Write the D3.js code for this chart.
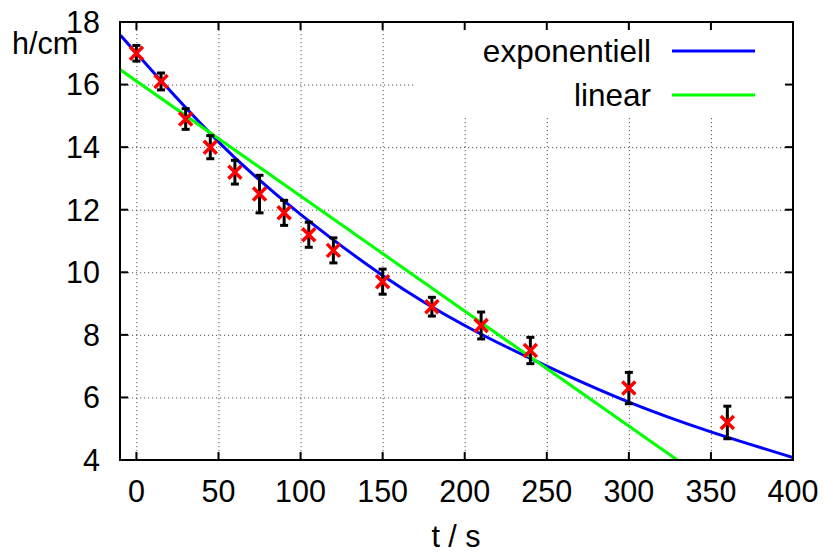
<!DOCTYPE html>
<meta charset="utf-8">
<style>
  body { margin: 0; background: #fff; }
  svg { display: block; font-family: "Liberation Sans", Arial, sans-serif; }
</style>
<svg id="chart" width="825" height="556"></svg>
<script src="https://cdn.jsdelivr.net/npm/d3@7"></script>
<script>

// measured points (t in s, h in cm) with error bars
var zeit = [0, 15, 30, 45, 60, 75, 90, 105, 120, 150, 180, 210, 240, 300, 360];
var hoehe = [17.0, 16.1, 14.9, 14.0, 13.2, 12.5, 11.9, 11.2, 10.7, 9.7, 8.9, 8.3, 7.5, 6.3, 5.2];
var fehler = [0.25, 0.27, 0.33, 0.37, 0.38, 0.6, 0.4, 0.4, 0.4, 0.4, 0.3, 0.43, 0.42, 0.5, 0.52];

// fitted curves
var expT = [-10, 0, 50, 100, 150, 200, 250, 300, 350, 400];
var expH = [17.6, 17.0, 14.17, 11.85, 9.9, 8.3, 7.0, 5.85, 4.9, 4.08];
var linT = [-10, 329.5];
var linH = [16.48, 4.0];

var xTicks = [0, 50, 100, 150, 200, 250, 300, 350, 400];
var yTicks = [4, 6, 8, 10, 12, 14, 16, 18];

var legende = [
  {name: "exponentiell", color: "#0000ff"},
  {name: "linear", color: "#00ff00"}
];

var svg = d3.select("svg"),
    pL = 120, pR = 793, pT = 22, pB = 460;

svg.append("rect").attr("width", 825).attr("height", 556).attr("fill", "#fff");

var x = d3.scaleLinear().domain([-10, 400]).range([pL, pR]);
var y = d3.scaleLinear().domain([4, 18]).range([pB, pT]);

// grid
var grid = svg.append("g")
    .attr("stroke", "#555")
    .attr("stroke-width", 1)
    .attr("stroke-dasharray", "1.2,2.8");

grid.selectAll(".gx")
  .data(xTicks)
  .enter().append("line")
    .attr("x1", function(d) { return x(d) + 0.5; })
    .attr("x2", function(d) { return x(d) + 0.5; })
    .attr("y1", pT)
    .attr("y2", pB);

grid.selectAll(".gy")
  .data(yTicks)
  .enter().append("line")
    .attr("x1", pL)
    .attr("x2", pR)
    .attr("y1", function(d) { return y(d) + 0.5; })
    .attr("y2", function(d) { return y(d) + 0.5; });

// opaque key box
svg.append("rect")
    .attr("x", 415).attr("y", pT)
    .attr("width", pR - 415).attr("height", 95)
    .attr("fill", "#fff");

svg.append("clipPath").attr("id", "clip")
  .append("rect")
    .attr("x", pL).attr("y", pT)
    .attr("width", pR - pL).attr("height", pB - pT);

var plot = svg.append("g").attr("clip-path", "url(#clip)");

var expLine = d3.line()
    .x(function(d, i) { return x(expT[i]); })
    .y(function(d) { return y(d); })
    .curve(d3.curveNatural);

var linLine = d3.line()
    .x(function(d, i) { return x(linT[i]); })
    .y(function(d) { return y(d); });

plot.append("path")
    .attr("d", expLine(expH))
    .attr("fill", "none")
    .attr("stroke", "#0000ff")
    .attr("stroke-width", 3);

plot.append("path")
    .attr("d", linLine(linH))
    .attr("fill", "none")
    .attr("stroke", "#00ff00")
    .attr("stroke-width", 3);

// error bars
var bars = plot.append("g")
    .attr("stroke", "#000")
    .attr("stroke-width", 3)
    .selectAll("g")
    .data(zeit)
    .enter().append("g");

bars.append("line")
    .attr("x1", function(d) { return x(d); })
    .attr("x2", function(d) { return x(d); })
    .attr("y1", function(d, i) { return y(hoehe[i] + fehler[i]); })
    .attr("y2", function(d, i) { return y(hoehe[i] - fehler[i]); });

bars.append("line")
    .attr("x1", function(d) { return x(d) - 4; })
    .attr("x2", function(d) { return x(d) + 4; })
    .attr("y1", function(d, i) { return y(hoehe[i] + fehler[i]); })
    .attr("y2", function(d, i) { return y(hoehe[i] + fehler[i]); });

bars.append("line")
    .attr("x1", function(d) { return x(d) - 4; })
    .attr("x2", function(d) { return x(d) + 4; })
    .attr("y1", function(d, i) { return y(hoehe[i] - fehler[i]); })
    .attr("y2", function(d, i) { return y(hoehe[i] - fehler[i]); });

// red crosses
var s = 6.5;
plot.append("g")
    .selectAll("path")
    .data(zeit)
    .enter().append("path")
      .attr("d", function(d, i) {
        var cx = x(d), cy = y(hoehe[i]);
        return "M" + (cx - s) + "," + (cy - s) + "L" + (cx + s) + "," + (cy + s) +
               "M" + (cx - s) + "," + (cy + s) + "L" + (cx + s) + "," + (cy - s);
      })
      .attr("stroke", "#ff0000")
      .attr("stroke-width", 3.5)
      .attr("fill", "none");

// frame with inward ticks on all sides
var frame = svg.append("g").attr("stroke", "#000").attr("stroke-width", 2);

frame.append("rect")
    .attr("x", pL).attr("y", pT)
    .attr("width", pR - pL).attr("height", pB - pT)
    .attr("fill", "none");

xTicks.forEach(function(t) {
  frame.append("line").attr("x1", x(t)).attr("x2", x(t)).attr("y1", pB).attr("y2", pB - 8);
  frame.append("line").attr("x1", x(t)).attr("x2", x(t)).attr("y1", pT).attr("y2", pT + 8);
});
yTicks.forEach(function(v) {
  frame.append("line").attr("x1", pL).attr("x2", pL + 8).attr("y1", y(v)).attr("y2", y(v));
  frame.append("line").attr("x1", pR).attr("x2", pR - 8).attr("y1", y(v)).attr("y2", y(v));
});

// tick labels
svg.append("g")
    .selectAll("text")
    .data(xTicks)
    .enter().append("text")
      .attr("x", function(d) { return x(d); })
      .attr("y", 502)
      .attr("text-anchor", "middle")
      .attr("font-size", 30.5)
      .text(function(d) { return d; });

svg.append("g")
    .selectAll("text")
    .data(yTicks)
    .enter().append("text")
      .attr("x", 100)
      .attr("y", function(d) { return y(d) + 10.8; })
      .attr("text-anchor", "end")
      .attr("font-size", 30.5)
      .text(function(d) { return d; });

svg.append("text")
    .attr("x", 12).attr("y", 54)
    .attr("font-size", 30.5)
    .text("h/cm");

svg.append("text")
    .attr("x", 456).attr("y", 547)
    .attr("text-anchor", "middle")
    .attr("font-size", 30.5)
    .text("t / s");

// legend
var key = svg.append("g")
    .selectAll("g")
    .data(legende)
    .enter().append("g")
      .attr("transform", function(d, i) { return "translate(0," + (51 + i * 44) + ")"; });

key.append("text")
    .attr("x", 651)
    .attr("y", 11)
    .attr("text-anchor", "end")
    .attr("font-size", 31.5)
    .text(function(d) { return d.name; });

key.append("line")
    .attr("x1", 672).attr("x2", 755)
    .attr("stroke", function(d) { return d.color; })
    .attr("stroke-width", 3);

</script>
